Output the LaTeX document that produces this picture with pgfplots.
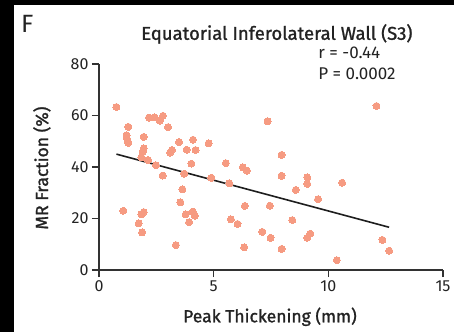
\documentclass[border=0pt]{standalone}
\usepackage{pgfplots}
\pgfplotsset{compat=1.18}
\usepackage{fontspec}
\setmainfont{Fira Sans}[BoldFont=Fira Sans, BoldFeatures={FakeBold=1.2}]
\definecolor{dotc}{RGB}{246,155,130}
\definecolor{txt}{RGB}{35,35,35}
\begin{document}
\begin{tikzpicture}[x=1pt,y=1pt]
\fill[black] (0,0) rectangle (454,332);
\fill[white] (14,0) rectangle (454,327);
\path[use as bounding box] (0,0) rectangle (454,332);
\node[font=\fontsize{25}{25}\selectfont, anchor=base west, inner sep=0pt, text=txt] at (21,299) {F};
\begin{axis}[
  at={(99pt,62pt)}, anchor=south west,
  scale only axis, width=344pt, height=206pt,
  xmin=0, xmax=15, ymin=0, ymax=80,
  xtick={0,5,10,15}, ytick={0,20,40,60,80},
  axis lines=left, axis line style={-, draw={rgb,255:red,50;green,50;blue,50}, line width=1.2pt},
  tick align=outside, major tick length=7pt,
  tick style={draw={rgb,255:red,50;green,50;blue,50}, line width=1.2pt},
  tick label style={font=\fontsize{16}{16}\selectfont, text=txt},
  /pgf/number format/assume math mode=true,
  xlabel={Peak Thickening (mm)},
  ylabel={MR Fraction (\%)},
  label style={font=\bfseries\fontsize{17.5}{17.5}\selectfont, text=txt},
  xlabel style={at={(axis description cs:0.497,-0.227)}, anchor=center},
  ylabel style={at={(axis description cs:-0.166,0.495)}, anchor=center, rotate=0},
  clip=false,
]
\addplot[only marks, mark=*, color=dotc, mark size=3.5pt, mark options={draw=dotc, fill=dotc, line width=0pt}] table {
x y
0.76 63.3
2.18 59.2
2.42 59.3
2.65 58.0
2.79 59.9
3.01 55.5
1.28 55.6
1.20 52.3
1.22 51.0
1.28 49.4
1.95 51.7
1.95 47.2
1.90 45.8
1.85 43.7
2.14 42.7
3.18 46.6
3.10 45.6
3.82 46.7
4.21 46.6
3.49 49.7
4.10 50.6
4.78 49.2
4.03 41.3
2.48 40.7
2.78 36.7
3.72 37.4
3.64 31.3
3.55 26.3
1.06 23.0
1.95 22.5
1.85 21.6
1.73 18.1
1.88 14.6
3.35 9.7
3.78 21.6
4.09 22.7
4.18 21.1
3.93 18.6
5.53 41.5
4.90 35.8
5.68 33.7
6.27 39.9
6.45 38.6
6.36 24.9
5.75 19.7
6.04 17.9
6.33 8.8
7.35 57.8
7.96 44.7
7.96 36.6
9.08 36.0
9.08 33.4
10.60 33.9
8.58 31.1
9.55 27.5
7.45 25.0
8.43 19.4
7.12 14.8
7.48 12.5
9.08 12.5
9.21 14.1
7.96 8.2
10.37 3.8
12.36 11.7
12.65 7.5
12.10 63.7
};
\addplot[no marks, line width=1.6pt, draw={rgb,255:red,30;green,30;blue,30}] coordinates {(0.76,45.0) (12.65,16.6)};
\node[font=\bfseries\fontsize{18.5}{18.5}\selectfont, text=txt, anchor=center] at (axis description cs:0.517,1.146) {Equatorial Inferolateral Wall (S3)};
\node[font=\fontsize{17}{17}\selectfont, text=txt, anchor=west, inner sep=0pt] at (axis description cs:0.637,1.053) {r = -0.44};
\node[font=\fontsize{17}{17}\selectfont, text=txt, anchor=west, inner sep=0pt] at (axis description cs:0.637,0.951) {P = 0.0002};
\end{axis}
\end{tikzpicture}
\end{document}
